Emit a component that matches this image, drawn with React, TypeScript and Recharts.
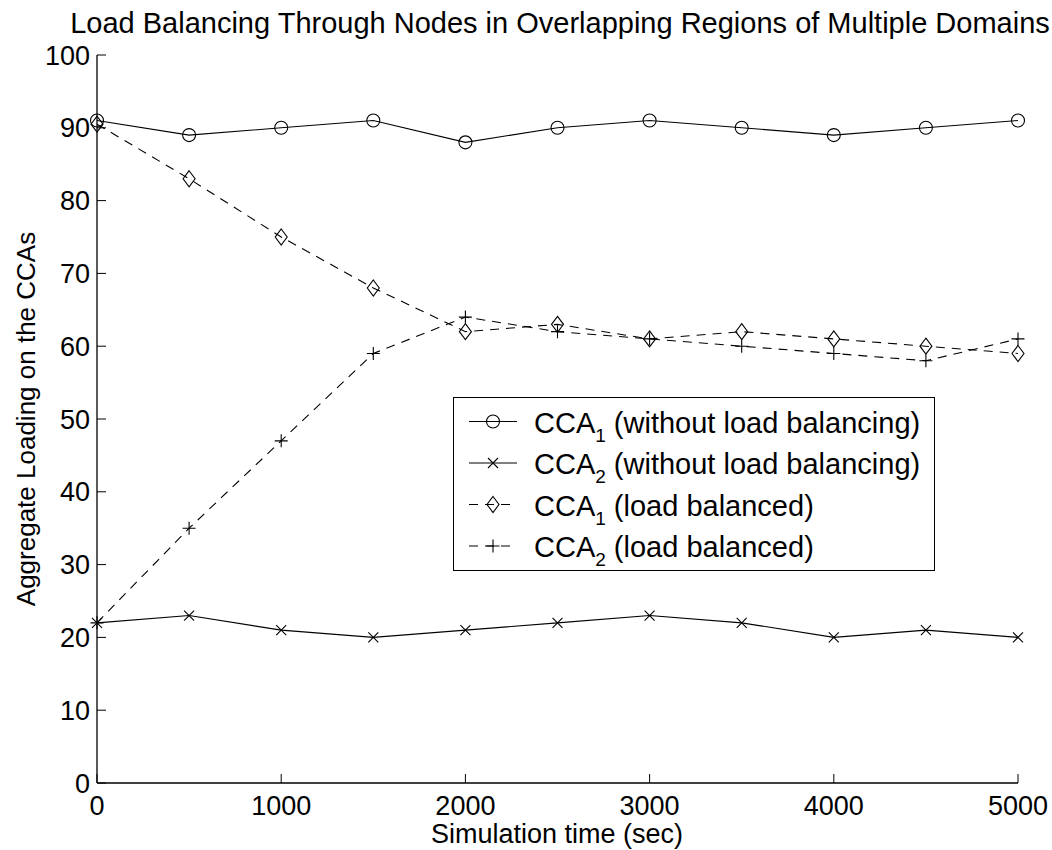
import React from 'react';
import { LineChart, Line, XAxis, YAxis, Legend } from 'recharts';

const timeSec = [0, 500, 1000, 1500, 2000, 2500, 3000, 3500, 4000, 4500, 5000];
const cca1NoBalance = [91, 89, 90, 91, 88, 90, 91, 90, 89, 90, 91];
const cca2NoBalance = [22, 23, 21, 20, 21, 22, 23, 22, 20, 21, 20];
const cca1Balanced = [90.5, 83, 75, 68, 62, 63, 61, 62, 61, 60, 59];
const cca2Balanced = [22, 35, 47, 59, 64, 62, 61, 60, 59, 58, 61];

const xTicks = [0, 1000, 2000, 3000, 4000, 5000];
const yTicks = [0, 10, 20, 30, 40, 50, 60, 70, 80, 90, 100];

const data = timeSec.map((t, i) => ({
  t,
  cca1: cca1NoBalance[i],
  cca2: cca2NoBalance[i],
  cca1lb: cca1Balanced[i],
  cca2lb: cca2Balanced[i],
}));

const FONT = '"Liberation Sans", Arial, Helvetica, sans-serif';
const DASH = '9 7';
const TICK_LEN = 9;

// chart frame
const W = 1052;
const H = 850;
const margin = { top: 55, right: 34, bottom: 0, left: 0 };
const Y_AXIS_W = 97;
const X_AXIS_H = 67;
const plotLeft = margin.left + Y_AXIS_W;
const plotRight = W - margin.right;
const plotTop = margin.top;
const plotBottom = H - margin.bottom - X_AXIS_H;

type MarkerKind = 'circle' | 'x' | 'diamond' | 'plus';

function Marker({ kind, cx, cy }: { kind: MarkerKind; cx: number; cy: number }) {
  const common = { fill: 'none', stroke: '#000', strokeWidth: 1.1 };
  if (kind === 'circle') return <circle cx={cx} cy={cy} r={6.5} {...common} />;
  if (kind === 'diamond')
    return <polygon points={`${cx},${cy - 8} ${cx + 6},${cy} ${cx},${cy + 8} ${cx - 6},${cy}`} {...common} />;
  if (kind === 'plus')
    return <path d={`M${cx - 6.5},${cy}H${cx + 6.5}M${cx},${cy - 6.5}V${cy + 6.5}`} {...common} />;
  return <path d={`M${cx - 5},${cy - 5}L${cx + 5},${cy + 5}M${cx - 5},${cy + 5}L${cx + 5},${cy - 5}`} {...common} />;
}

const dotFor = (kind: MarkerKind) => (props: any) => {
  const { cx, cy, index } = props;
  return (
    <g key={`${kind}-${index}`}>
      <Marker kind={kind} cx={cx} cy={cy} />
    </g>
  );
};

// ticks point into the plot (MATLAB style)
const BottomTick = (props: any) => {
  const { x, payload } = props;
  return (
    <g>
      <line x1={x} y1={plotBottom} x2={x} y2={plotBottom - TICK_LEN} stroke="#000" />
      <text x={x} y={plotBottom + 32} textAnchor="middle" fontSize={27} fontFamily={FONT} fill="#000">
        {payload.value}
      </text>
    </g>
  );
};

const TopTick = (props: any) => {
  const { x } = props;
  return <line x1={x} y1={plotTop} x2={x} y2={plotTop + TICK_LEN} stroke="#000" />;
};

const LeftTick = (props: any) => {
  const { y, payload } = props;
  return (
    <g>
      <line x1={plotLeft} y1={y} x2={plotLeft + TICK_LEN} y2={y} stroke="#000" />
      <text x={plotLeft - 7} y={y + 9.5} textAnchor="end" fontSize={27} fontFamily={FONT} fill="#000">
        {payload.value}
      </text>
    </g>
  );
};

const RightTick = (props: any) => {
  const { y } = props;
  return <line x1={plotRight} y1={y} x2={plotRight - TICK_LEN} y2={y} stroke="#000" />;
};

const legendRows: { kind: MarkerKind; sub: string; text: string; dashed: boolean }[] = [
  { kind: 'circle', sub: '1', text: ' (without load balancing)', dashed: false },
  { kind: 'x', sub: '2', text: ' (without load balancing)', dashed: false },
  { kind: 'diamond', sub: '1', text: ' (load balanced)', dashed: true },
  { kind: 'plus', sub: '2', text: ' (load balanced)', dashed: true },
];

const renderLegend = () => (
  <svg width={482} height={175} style={{ display: 'block' }}>
    <rect x={0.5} y={0.5} width={481} height={173} fill="#fff" stroke="#000" strokeWidth={1} />
    {legendRows.map((row, i) => {
      const cy = 24.5 + i * 41.5;
      return (
        <g key={i}>
          <line
            x1={16}
            y1={cy}
            x2={64}
            y2={cy}
            stroke="#000"
            strokeWidth={1}
            strokeDasharray={row.dashed ? DASH : undefined}
          />
          <Marker kind={row.kind} cx={40} cy={cy} />
          <text x={81} y={cy + 11} fontSize={29} fontFamily={FONT} fill="#000">
            CCA
            <tspan fontSize={19} dy={9}>
              {row.sub}
            </tspan>
            <tspan dy={-9} fontSize={29}>
              {row.text}
            </tspan>
          </text>
        </g>
      );
    })}
  </svg>
);

const axisLine = { stroke: '#000', strokeWidth: 1.3 };

export default function App() {
  return (
    <div style={{ position: 'absolute', left: 0, top: 0, background: '#fff' }}>
      <LineChart width={W} height={H} data={data} margin={margin}>
        <XAxis
          xAxisId="bottom"
          dataKey="t"
          type="number"
          domain={[0, 5000]}
          ticks={xTicks}
          height={X_AXIS_H}
          tickLine={false}
          tick={BottomTick}
          axisLine={axisLine}
          label={{
            content: () => (
              <text x={557} y={843} textAnchor="middle" fontSize={27} fontFamily={FONT} fill="#000">
                Simulation time (sec)
              </text>
            ),
          }}
        />
        <XAxis
          xAxisId="top"
          orientation="top"
          dataKey="t"
          type="number"
          domain={[0, 5000]}
          ticks={xTicks}
          height={0}
          tickLine={false}
          tick={TopTick}
          axisLine={axisLine}
        />
        <YAxis
          yAxisId="left"
          type="number"
          domain={[0, 100]}
          ticks={yTicks}
          width={Y_AXIS_W}
          tickLine={false}
          tick={LeftTick}
          axisLine={axisLine}
          label={{
            content: () => (
              <g>
                <text x={560} y={33} textAnchor="middle" fontSize={29} fontFamily={FONT} fill="#000">
                  Load Balancing Through Nodes in Overlapping Regions of Multiple Domains
                </text>
                <text
                  x={35}
                  y={419}
                  transform="rotate(-90, 35, 419)"
                  textAnchor="middle"
                  fontSize={26}
                  fontFamily={FONT}
                  fill="#000"
                >
                  Aggregate Loading on the CCAs
                </text>
              </g>
            ),
          }}
        />
        <YAxis
          yAxisId="right"
          orientation="right"
          type="number"
          domain={[0, 100]}
          ticks={yTicks}
          width={0}
          tickLine={false}
          tick={RightTick}
          axisLine={{ stroke: '#000', strokeWidth: 2 }}
        />
        <Line
          xAxisId="bottom"
          yAxisId="left"
          dataKey="cca1"
          stroke="#000"
          strokeWidth={1.1}
          dot={dotFor('circle')}
          isAnimationActive={false}
        />
        <Line
          xAxisId="bottom"
          yAxisId="left"
          dataKey="cca2"
          stroke="#000"
          strokeWidth={1.1}
          dot={dotFor('x')}
          isAnimationActive={false}
        />
        <Line
          xAxisId="bottom"
          yAxisId="left"
          dataKey="cca1lb"
          stroke="#000"
          strokeWidth={1.1}
          strokeDasharray={DASH}
          dot={dotFor('diamond')}
          isAnimationActive={false}
        />
        <Line
          xAxisId="bottom"
          yAxisId="left"
          dataKey="cca2lb"
          stroke="#000"
          strokeWidth={1.1}
          strokeDasharray={DASH}
          dot={dotFor('plus')}
          isAnimationActive={false}
        />
        <Legend
          layout="vertical"
          align="center"
          verticalAlign="middle"
          content={renderLegend}
          wrapperStyle={{ left: 453, top: 397, width: 482, height: 175 }}
        />
      </LineChart>
    </div>
  );
}
